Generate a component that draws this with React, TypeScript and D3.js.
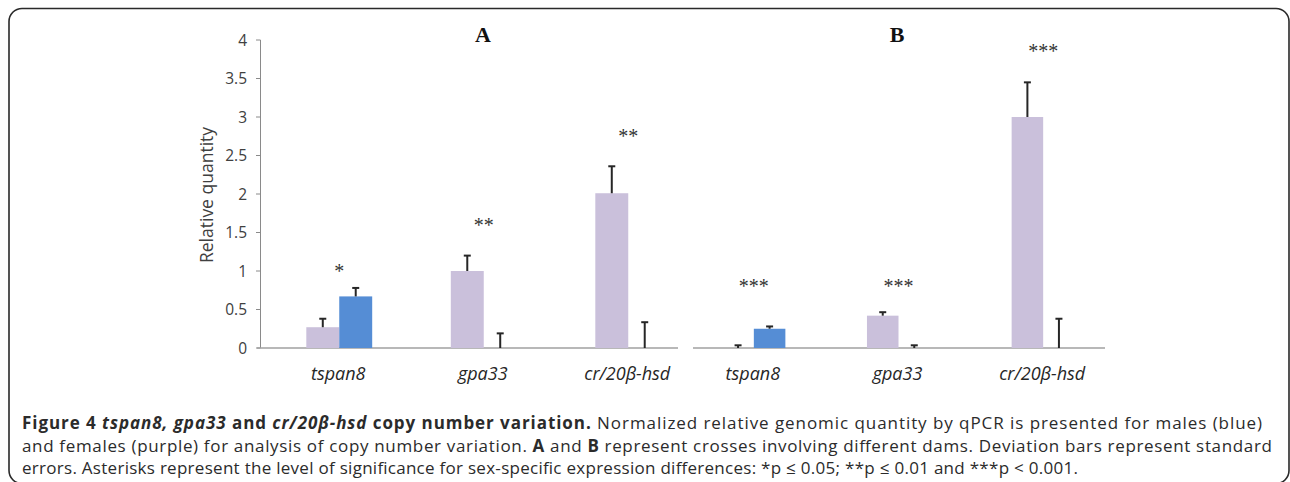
import React from "react";
import * as d3 from "d3";

// ---- data ----
const categories = ["tspan8", "gpa33", "cr/20β-hsd"];
const femaleA = [0.27, 1.0, 2.01];
const femaleAErr = [0.11, 0.2, 0.35];
const maleA = [0.67, 0, 0];
const maleAErr = [0.11, 0.19, 0.335];
const femaleB = [0, 0.42, 3.0];
const femaleBErr = [0.035, 0.045, 0.45];
const maleB = [0.25, 0, 0];
const maleBErr = [0.03, 0.035, 0.38];
const sigA = ["*", "**", "**"];
const sigLevelA = [1.04, 1.63, 2.79];
const sigB = ["***", "***", "***"];
const sigLevelB = [0.84, 0.85, 3.89];
const yTicks = d3.range(0, 4.01, 0.5);
const panelNames = ["A", "B"];

const W = 1290;
const H = 482;
const PURPLE = "#CAC0DB";
const BLUE = "#558DD5";
const ERR = "#262626";
const SANS = "'Open Sans', 'Noto Sans', sans-serif";
const SERIF = "'Liberation Serif', 'DejaVu Serif', serif";

const y = d3.scaleLinear().domain([0, 4]).range([348, 40]);

const panels = [
  {
    name: panelNames[0],
    x: d3.scaleBand().domain(categories).range([267, 700.5]),
    barFrac: 0.228,
    axis: [257, 678],
    female: femaleA,
    femaleErr: femaleAErr,
    male: maleA,
    maleErr: maleAErr,
    sig: sigA,
    sigLevel: sigLevelA,
    titleX: 483,
  },
  {
    name: panelNames[1],
    x: d3.scaleBand().domain(categories).range([681.5, 1115.5]),
    barFrac: 0.218,
    axis: [693, 1105],
    female: femaleB,
    femaleErr: femaleBErr,
    male: maleB,
    maleErr: maleBErr,
    sig: sigB,
    sigLevel: sigLevelB,
    titleX: 897,
  },
];

function Panel({ p }: { p: any }) {
  const bw = p.x.bandwidth() * p.barFrac;
  const sub = d3.scaleBand().domain(["F", "M"]).range([-bw, bw]);
  return (
    <g>
      <line x1={p.axis[0]} x2={p.axis[1]} y1={y(0)} y2={y(0)} stroke="#a0a0a0" strokeWidth={1.6} />
      {categories.map((c, i) => {
        const cx = p.x(c)! + p.x.bandwidth() / 2;
        const series = [
          { key: "F", v: p.female[i], e: p.femaleErr[i], color: PURPLE },
          { key: "M", v: p.male[i], e: p.maleErr[i], color: BLUE },
        ];
        return (
          <g key={c}>
            {series.map((s) => {
              const x0 = cx + sub(s.key)!;
              const mid = x0 + sub.bandwidth() / 2;
              return (
                <g key={s.key}>
                  {s.v > 0 && (
                    <rect x={x0} y={y(s.v)} width={sub.bandwidth()} height={y(0) - y(s.v)} fill={s.color} />
                  )}
                  <line x1={mid} x2={mid} y1={y(s.v)} y2={y(s.v + s.e)} stroke={ERR} strokeWidth={2} />
                  <line x1={mid - 3.5} x2={mid + 3.5} y1={y(s.v + s.e)} y2={y(s.v + s.e)} stroke={ERR} strokeWidth={2} />
                </g>
              );
            })}
            <text
              x={cx}
              y={y(p.sigLevel[i]) + 10}
              textAnchor="middle"
              fontFamily={SERIF}
              fontSize={20}
              fill="#333"
            >
              {p.sig[i]}
            </text>
            <text
              x={cx - 1}
              y={380}
              textAnchor="middle"
              fontFamily={SANS}
              fontStyle="italic"
              fontSize={18}
              fill="#262626"
            >
              {c}
            </text>
          </g>
        );
      })}
      <text x={p.titleX} y={42} textAnchor="middle" fontFamily={SERIF} fontWeight="bold" fontSize={22} fill="#111">
        {p.name}
      </text>
    </g>
  );
}

export default function App() {
  return (
    <svg
      width={W}
      height={H}
      viewBox={`0 0 ${W} ${H}`}
      style={{ position: "absolute", left: 0, top: 0, background: "#fff" }}
    >
      <rect x={0} y={0} width={W} height={H} fill="#fff" />
      <rect x={9} y={8.5} width={1280} height={475} rx={13} fill="none" stroke="#2a2a2a" strokeWidth={1.6} />

      {/* y axis */}
      <line x1={260.5} x2={260.5} y1={y(4)} y2={y(0)} stroke="#8a8a8a" strokeWidth={1} />
      {yTicks.map((t) => (
        <g key={t}>
          <line x1={256} x2={260.5} y1={y(t)} y2={y(t)} stroke="#8a8a8a" strokeWidth={1} />
          <text
            x={247}
            y={y(t)}
            dy="0.36em"
            textAnchor="end"
            fontFamily={SANS}
            fontSize={15.5}
            fill="#404040"
          >
            {String(t)}
          </text>
        </g>
      ))}
      <text
        transform={`translate(213,195) rotate(-90)`}
        textAnchor="middle"
        fontFamily={SANS}
        fontSize={17.5}
        fill="#404040"
      >
        Relative quantity
      </text>

      {panels.map((p) => (
        <Panel key={p.name} p={p} />
      ))}

      {/* caption */}
      <g fontFamily={SANS} fontSize={17} fill="#2b2b2b">
        <text x={22} y={429} textLength={1240} lengthAdjust="spacing">
          <tspan fontWeight="bold">Figure 4 </tspan>
          <tspan fontWeight="bold" fontStyle="italic">tspan8, gpa33</tspan>
          <tspan fontWeight="bold"> and </tspan>
          <tspan fontWeight="bold" fontStyle="italic">cr/20β-hsd</tspan>
          <tspan fontWeight="bold"> copy number variation.</tspan>
          <tspan> Normalized relative genomic quantity by qPCR is presented for males (blue)</tspan>
        </text>
        <text x={22} y={452} textLength={1250} lengthAdjust="spacing">
          <tspan>and females (purple) for analysis of copy number variation. </tspan>
          <tspan fontWeight="bold">A</tspan>
          <tspan> and </tspan>
          <tspan fontWeight="bold">B</tspan>
          <tspan> represent crosses involving different dams. Deviation bars represent standard</tspan>
        </text>
        <text x={22} y={474} textLength={1056} lengthAdjust="spacing">
          errors. Asterisks represent the level of significance for sex-specific expression differences: *p ≤ 0.05; **p ≤ 0.01 and ***p &lt; 0.001.
        </text>
      </g>
    </svg>
  );
}
